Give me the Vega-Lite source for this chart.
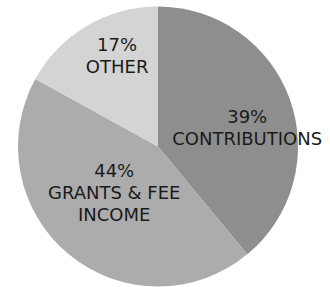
{
  "$schema": "https://vega.github.io/schema/vega-lite/v6.json",
  "width": 316,
  "height": 293,
  "padding": {"left": 0, "top": 0, "right": 14, "bottom": 0},
  "autosize": "none",
  "background": "white",
  "config": {"view": {"stroke": null}},
  "data": {"values": [
    {"category": "CONTRIBUTIONS", "pct": 39, "label": "39%\nCONTRIBUTIONS", "order": 1},
    {"category": "GRANTS & FEE INCOME", "pct": 44, "label": "44%\nGRANTS & FEE\nINCOME", "order": 2},
    {"category": "OTHER", "pct": 17, "label": "17%\nOTHER", "order": 3}
  ]},
  "encoding": {
    "theta": {"field": "pct", "type": "quantitative", "stack": true},
    "order": {"field": "order", "type": "quantitative"}
  },
  "layer": [
    {
      "mark": {"type": "arc", "outerRadius": 140},
      "encoding": {
        "color": {
          "field": "category", "type": "nominal", "legend": null,
          "scale": {"domain": ["CONTRIBUTIONS", "GRANTS & FEE INCOME", "OTHER"], "range": ["#8e8e8e", "#acacac", "#d4d4d4"]}
        }
      }
    },
    {
      "mark": {"type": "text", "radius": 98, "dx": -3, "dy": 5, "fontSize": 18, "font": "DejaVu Sans", "lineBreak": "\n", "lineHeight": 22, "fill": "#1a1a1a"},
      "encoding": {"text": {"condition": {"test": "datum.order === 1", "field": "label"}, "value": ""}}
    },
    {
      "mark": {"type": "text", "radius": 64, "dx": -3, "dy": -24, "fontSize": 18, "font": "DejaVu Sans", "lineBreak": "\n", "lineHeight": 22, "fill": "#1a1a1a"},
      "encoding": {"text": {"condition": {"test": "datum.order === 2", "field": "label"}, "value": ""}}
    },
    {
      "mark": {"type": "text", "radius": 98, "dx": 9, "dy": -16, "fontSize": 18, "font": "DejaVu Sans", "lineBreak": "\n", "lineHeight": 22, "fill": "#1a1a1a"},
      "encoding": {"text": {"condition": {"test": "datum.order === 3", "field": "label"}, "value": ""}}
    }
  ]
}
